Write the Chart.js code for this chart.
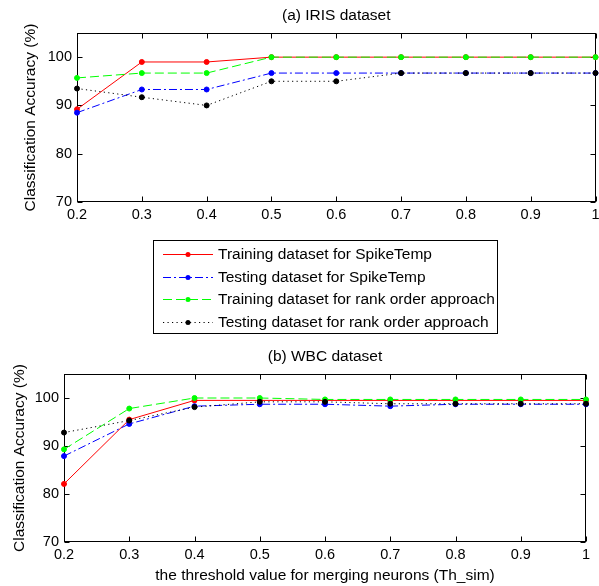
<!DOCTYPE html>
<html>
<head>
<meta charset="utf-8">
<script src="https://cdn.jsdelivr.net/npm/chart.js@4"></script>
<style>
html,body{margin:0;padding:0;background:#fff;}
#wrap{position:relative;width:599px;height:586px;overflow:hidden;background:#fff;}
canvas{position:absolute;left:0;}
#c1{top:0;}
#c2{top:340px;}
</style>
</head>
<body>
<div id="wrap">
<canvas id="c1" width="599" height="340"></canvas>
<canvas id="c2" width="599" height="246"></canvas>
</div>
<script>
// ---- data ----
const categories = ['0.2','0.3','0.4','0.5','0.6','0.7','0.8','0.9','1'];
const seriesNames = [
  'Training dataset for SpikeTemp',
  'Testing dataset for SpikeTemp',
  'Training dataset for rank order approach',
  'Testing dataset for rank order approach'
];
const yTicks = [70, 80, 90, 100];

const irisTrainSpike = [89.2, 99, 99, 100, 100, 100, 100, 100, 100];
const irisTestSpike  = [88.5, 93.3, 93.3, 96.7, 96.7, 96.7, 96.7, 96.7, 96.7];
const irisTrainRank  = [95.7, 96.7, 96.7, 100, 100, 100, 100, 100, 100];
const irisTestRank   = [93.5, 91.7, 90, 95, 95, 96.7, 96.7, 96.7, 96.7];

const wbcTrainSpike = [82.1, 95.5, 99.5, 99.5, 99.5, 99.5, 99.5, 99.5, 99.5];
const wbcTestSpike  = [87.9, 94.6, 98.3, 98.7, 98.7, 98.3, 98.7, 98.7, 98.7];
const wbcTrainRank  = [89.3, 97.8, 100, 100, 99.7, 99.7, 99.7, 99.7, 99.7];
const wbcTestRank   = [92.8, 95.3, 98.1, 99.2, 99.2, 98.8, 98.8, 98.8, 98.8];

// ---- styles ----
const FONT = '"Liberation Sans", Arial, Helvetica, sans-serif';
const TXT = 15.5;
const styles = [
  {color:'#ff0000', dash:[], order:4},
  {color:'#0000ff', dash:[8,3,2,3], order:3},
  {color:'#00ff00', dash:[9,4], order:2},
  {color:'#000000', dash:[1.2,3.3], order:1}
];

function makeDatasets(arrs){
  return arrs.map((d,i)=>({
    label: seriesNames[i],
    data: d,
    borderColor: styles[i].color,
    backgroundColor: styles[i].color,
    pointBackgroundColor: styles[i].color,
    pointBorderColor: styles[i].color,
    borderWidth: 1,
    borderDash: styles[i].dash,
    pointRadius: 2.5,
    pointHoverRadius: 2.5,
    pointStyle: 'circle',
    tension: 0,
    fill: false,
    order: styles[i].order,
    clip: 8
  }));
}

const framePlugin = {
  id: 'frame',
  beforeDatasetsDraw(chart){
    const ctx = chart.ctx, a = chart.chartArea;
    const xs = chart.scales.x, ys = chart.scales.y;
    ctx.save();
    ctx.strokeStyle = '#000';
    ctx.lineWidth = 1;
    const L = Math.round(a.left)+0.5, R = Math.round(a.right)-0.5;
    const T = Math.round(a.top)+0.5, B = Math.round(a.bottom)-0.5;
    ctx.strokeRect(L, T, R-L, B-T);
    ctx.beginPath();
    for (let i=0;i<xs.ticks.length;i++){
      const x = Math.round(xs.getPixelForTick(i))+0.5;
      ctx.moveTo(x,B); ctx.lineTo(x,B-5);
      ctx.moveTo(x,T); ctx.lineTo(x,T+5);
    }
    ys.ticks.forEach(t=>{
      const y = Math.round(ys.getPixelForValue(t.value))+0.5;
      ctx.moveTo(L,y); ctx.lineTo(L+5,y);
      ctx.moveTo(R,y); ctx.lineTo(R-5,y);
    });
    ctx.stroke();
    ctx.restore();
  }
};

const legendPlugin = {
  id: 'boxLegend',
  afterDraw(chart){
    const ctx = chart.ctx;
    ctx.save();
    ctx.strokeStyle = '#000';
    ctx.lineWidth = 1;
    ctx.strokeRect(153.5, 240.5, 344, 93);
    chart.data.datasets.forEach((ds,i)=>{
      const y = Math.round(254 + i*22.7)+0.5;
      ctx.strokeStyle = ds.borderColor;
      ctx.setLineDash(ds.borderDash);
      ctx.beginPath(); ctx.moveTo(163,y); ctx.lineTo(213,y); ctx.stroke();
      ctx.setLineDash([]);
      ctx.fillStyle = ds.borderColor;
      ctx.beginPath(); ctx.arc(188,y,2.5,0,Math.PI*2); ctx.fill();
      ctx.fillStyle = '#000';
      ctx.font = TXT + 'px ' + FONT;
      ctx.textBaseline = 'middle';
      ctx.textAlign = 'left';
      ctx.fillText(ds.label, 218, y);
    });
    ctx.restore();
  }
};

function makeChart(id, arrs, opt){
  return new Chart(document.getElementById(id), {
    type: 'line',
    data: { labels: categories, datasets: makeDatasets(arrs) },
    plugins: opt.legend ? [framePlugin, legendPlugin] : [framePlugin],
    options: {
      responsive: false,
      animation: false,
      devicePixelRatio: 1,
      layout: { padding: opt.padding },
      plugins: {
        legend: { display: false },
        tooltip: { enabled: false },
        title: {
          display: true, text: opt.title, color: '#000', fullSize: false,
          font: { family: FONT, size: TXT, weight: 'normal' },
          padding: opt.titlePad
        }
      },
      scales: {
        x: {
          type: 'category', offset: false,
          grid: { display: false, drawTicks: false, offset: false },
          border: { display: false },
          ticks: { autoSkip: false, maxRotation: 0, padding: 4, color: '#000',
                   font: { family: FONT, size: 14.5 } },
          title: opt.xTitle ? { display: true, text: opt.xTitle, color: '#000',
                   font: { family: FONT, size: TXT }, padding: { top: 0, bottom: 1 } } : { display: false },
          afterFit(s){ s.height = opt.xHeight; s.paddingLeft = 0; s.paddingRight = 0; }
        },
        y: {
          min: 70, max: 105,
          grid: { display: false, drawTicks: false },
          border: { display: false },
          afterBuildTicks(s){ s.ticks = yTicks.map(v=>({value:v})); },
          ticks: { padding: 5, color: '#000', font: { family: FONT, size: 14.5 } },
          title: { display: true, text: 'Classification Accuracy (%)', color: '#000',
                   font: { family: FONT, size: TXT }, padding: { top: opt.yTitlePad, bottom: 0 } },
          afterFit(s){ s.width = opt.yWidth; s.paddingTop = 0; s.paddingBottom = 0; }
        }
      }
    }
  });
}

makeChart('c1', [irisTrainSpike, irisTestSpike, irisTrainRank, irisTestRank], {
  legend: true, title: '(a) IRIS dataset', titlePad: {top:6, bottom:8.4},
  padding: {left:0, right:1, top:0, bottom:114}, xHeight: 24, yWidth: 77, yTitlePad: 21
});
makeChart('c2', [wbcTrainSpike, wbcTestSpike, wbcTrainRank, wbcTestRank], {
  legend: false, title: '(b) WBC dataset', titlePad: {top:7, bottom:8.4},
  padding: {left:0, right:13, top:0, bottom:0}, xHeight: 44, yWidth: 64, yTitlePad: 10,
  xTitle: 'the threshold value for merging neurons (Th_sim)'
});
</script>
</body>
</html>
